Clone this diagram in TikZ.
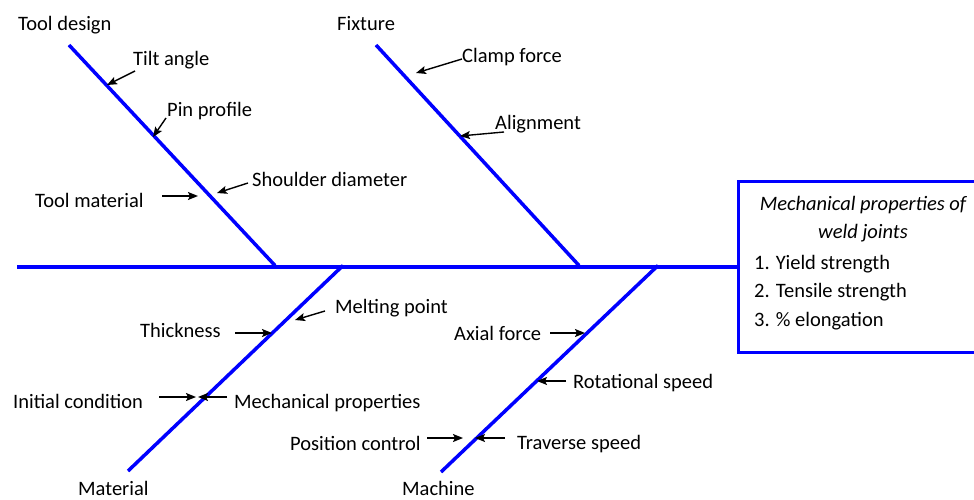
\documentclass[tikz,border=0pt]{standalone}
\usepackage{fontspec}
\setmainfont{Carlito}
\usetikzlibrary{arrows.meta}
\begin{document}
\begin{tikzpicture}[x=1pt,y=-1pt,
  bone/.style={draw=blue, line width=3.5pt},
  spine/.style={draw=blue, line width=4pt},
  lbl/.style={anchor=base west, inner sep=0pt, font=\fontsize{20.5}{28}\selectfont},
  boxtitle/.style={anchor=base, inner sep=0pt, font=\fontsize{20.5}{28}\selectfont\itshape},
  ptr/.style={draw=black, line width=1.4pt, -{Stealth[length=10pt,width=8pt,inset=2pt]}}]
\clip (0,0) rectangle (974,500);
% effect box (its right edge runs past the picture's edge)
\node[draw=blue, line width=3pt, minimum width=280pt, minimum height=171pt,
      anchor=north west, inner sep=0pt] (effect) at (737,180) {};
\node[boxtitle] (t1) at (863,210) {Mechanical properties of};
\node[boxtitle] (t2) at (863,238) {weld joints};
\node[lbl] (i1) at (754,269) {1. Yield strength};
\node[lbl] (i2) at (754,297) {2. Tensile strength};
\node[lbl] (i3) at (754,326) {3. \% elongation};
% spine
\coordinate (spineL) at (17,265.5);
\draw[spine] (spineL |- effect.west) -- (effect.west);
% bones
\coordinate (tdTop) at (69,45);   \coordinate (tdBot) at (275,265.5);
\coordinate (fxTop) at (376,45);  \coordinate (fxBot) at (579,265.5);
\coordinate (maEnd) at (128,471); \coordinate (maTop) at (343,265.5);
\coordinate (mcEnd) at (441,472); \coordinate (mcTop) at (658,265.5);
\draw[bone] (tdTop) -- (tdBot);
\draw[bone] (fxTop) -- (fxBot);
\draw[bone] (maEnd) -- (maTop);
\draw[bone] (mcEnd) -- (mcTop);
% category labels
\node[lbl] (tooldesign) at (18,31) {Tool design};
\node[lbl] (fixture) at (337,31) {Fixture};
\node[lbl] (material) at (78,495) {Material};
\node[lbl] (machine) at (402,495) {Machine};
% cause labels
\node[lbl] (tilt) at (133,66) {Tilt angle};
\node[lbl] (pin) at (167,117) {Pin profile};
\node[lbl] (shoulder) at (252,186) {Shoulder diameter};
\node[lbl] (toolmat) at (35,207) {Tool material};
\node[lbl] (clamp) at (462,63) {Clamp force};
\node[lbl] (alignm) at (495,130) {Alignment};
\node[lbl] (melting) at (335,313) {Melting point};
\node[lbl] (thick) at (140,337) {Thickness};
\node[lbl] (initial) at (13,408) {Initial condition};
\node[lbl] (mechprop) at (234,408) {Mechanical properties};
\node[lbl] (axial) at (454,340) {Axial force};
\node[lbl] (rot) at (573,388) {Rotational speed};
\node[lbl] (pos) at (290,450) {Position control};
\node[lbl] (trav) at (517,449) {Traverse speed};
% arrow end points
\coordinate (tiltT) at (135,71);     \coordinate (tiltH) at (107,85);
\coordinate (pinT) at (166,118);     \coordinate (pinH) at (153,137);
\coordinate (shT) at (248,183);      \coordinate (shH) at (217,193);
\coordinate (tmT) at (162,196);      \coordinate (tmH) at (198,196);
\coordinate (clT) at (462,59);       \coordinate (clH) at (416,73);
\coordinate (alT) at (504,132);      \coordinate (alH) at (460,136);
\coordinate (meT) at (325,311);      \coordinate (meH) at (295,320);
\coordinate (thT) at (235,333);      \coordinate (thH) at (272,333);
\coordinate (inT) at (159,397);      \coordinate (inH) at (196,397);
\coordinate (mpT) at (227,397);      \coordinate (mpH) at (198,397);
\coordinate (axT) at (550,333);      \coordinate (axH) at (585,333);
\coordinate (roT) at (566,381);      \coordinate (roH) at (537,381);
\coordinate (poT) at (427,438);      \coordinate (poH) at (463,438);
\coordinate (trT) at (505,438);      \coordinate (trH) at (475,438);
\draw[ptr] (tiltT) -- (tiltH);
\draw[ptr] (pinT) -- (pinH);
\draw[ptr] (shT) -- (shH);
\draw[ptr] (tmT) -- (tmH);
\draw[ptr] (clT) -- (clH);
\draw[ptr] (alT) -- (alH);
\draw[ptr] (meT) -- (meH);
\draw[ptr] (thT) -- (thH);
\draw[ptr] (inT) -- (inH);
\draw[ptr] (mpT) -- (mpH);
\draw[ptr] (axT) -- (axH);
\draw[ptr] (roT) -- (roH);
\draw[ptr] (poT) -- (poH);
\draw[ptr] (trT) -- (trH);
\end{tikzpicture}
\end{document}
